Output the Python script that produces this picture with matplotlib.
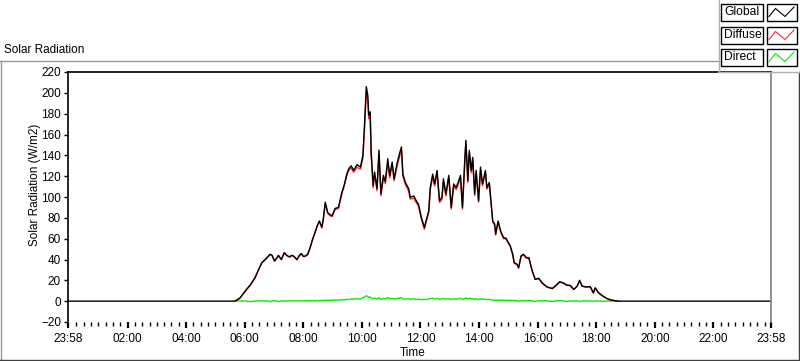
import matplotlib
matplotlib.use('Agg')
import matplotlib.pyplot as plt
from matplotlib.patches import Rectangle
from matplotlib.lines import Line2D

plt.rcParams['font.family'] = ['Liberation Sans', 'DejaVu Sans']

# time in minutes after midnight (-2 = 23:58 of previous day)
t_min = [-2, 340, 350, 361, 372, 381, 390, 395, 402, 408,
         412, 416, 421, 425, 429, 435, 441, 446, 452, 456,
         460, 467, 472, 476, 480, 484, 489, 494, 499, 504,
         508, 513, 518, 521, 525, 530, 535, 539, 545, 552,
         559, 564, 569, 573, 578, 583, 590, 597, 602, 605,
         609, 612, 614, 617, 619, 623, 626, 631, 635, 639,
         644, 648, 653, 657, 662, 666, 672, 677, 681, 684,
         689, 696, 699, 706, 713, 716, 722, 728, 733, 737,
         740, 745, 749, 754, 759, 764, 767, 772, 778, 783,
         788, 793, 797, 802, 806, 811, 813, 817, 820, 824,
         827, 831, 834, 839, 843, 847, 853, 856, 861, 865,
         868, 872, 874, 879, 884, 890, 895, 900, 904, 909,
         912, 918, 921, 926, 931, 937, 942, 949, 955, 962,
         969, 979, 990, 996, 1005, 1012, 1020, 1027, 1034, 1041,
         1046, 1051, 1058, 1068, 1074, 1078, 1085, 1094, 1102, 1109,
         1118, 1125, 1438]

global_wm2 = [0, 0, 3, 9.7, 16, 22.5, 32, 37, 40, 43,
              45, 44, 38.6, 41, 44, 40, 46.6, 44, 42.5, 44,
              43.4, 40, 44, 45.7, 43, 43.4, 45, 51.5, 59.5, 66,
              72, 77, 71, 79, 95, 85, 83, 82, 89, 90,
              104.5, 112, 122, 127, 130, 125.5, 131, 128.7, 140, 165.7,
              206, 198, 178.6, 181.8, 143, 111, 124, 108, 145, 103,
              120.7, 115, 136.8, 120.7, 133.5, 117.5, 132, 141.6, 148, 122,
              114, 107.8, 99.7, 101, 95, 93, 80, 70.8, 80, 87,
              109, 122, 112.6, 125.5, 96.5, 99.7, 117.5, 103, 120.7, 90,
              112.6, 109, 114, 120.7, 90, 138, 154.4, 115.8, 144.8, 125.5,
              138, 103, 125.5, 96.5, 128.7, 112.6, 125.5, 109, 114, 93,
              77, 74, 64.4, 77, 67.6, 61, 60.5, 56.3, 53, 45,
              37, 35.4, 32, 43.4, 45, 41.8, 41.8, 29, 21, 22,
              17.7, 13.8, 12.2, 14.5, 18.6, 17.7, 15.4, 15.1, 11.3, 14.5,
              20, 14.5, 13.8, 13.8, 8, 12.8, 8, 4.8, 2.6, 1.3,
              0.5, 0, 0]

diffuse_wm2 = [0, 0, 2.7, 9.5, 15.8, 22.2, 31.8, 36.7, 39.8, 42.7,
               44.8, 43.8, 38.3, 40.8, 43.8, 39.8, 46.3, 43.8, 42.2, 43.8,
               43.0, 39.7, 43.8, 45.3, 42.7, 42.9, 44.6, 51.2, 58.9, 65.6,
               71.3, 76.5, 70.2, 78.4, 94.0, 84.3, 81.9, 81.2, 87.8, 89.0,
               103.0, 110.8, 120.2, 125.5, 127.8, 123.7, 128.5, 126.7, 136.8, 161.7,
               200.8, 193.5, 175.0, 177.8, 140.2, 108.8, 121.0, 106.0, 141.8, 101.2,
               118.1, 112.8, 133.3, 118.3, 130.7, 115.5, 129.4, 138.6, 144.6, 119.8,
               112.0, 105.4, 97.9, 98.8, 93.4, 91.0, 78.6, 69.0, 78.5, 85.0,
               106.6, 119.2, 110.6, 122.9, 94.7, 97.5, 114.9, 101.1, 118.2, 88.4,
               110.4, 107.0, 111.6, 117.9, 88.4, 135.4, 151.4, 113.8, 142.0, 123.3,
               135.4, 101.5, 123.2, 95.1, 126.3, 110.8, 123.5, 107.5, 112.2, 91.8,
               76.0, 72.8, 63.6, 75.9, 66.7, 60.0, 59.8, 55.4, 52.4, 44.2,
               36.5, 34.7, 31.7, 42.8, 44.5, 41.2, 41.4, 28.5, 20.8, 21.6,
               17.4, 13.4, 12.0, 14.2, 18.2, 17.4, 15.2, 14.8, 11.1, 14.2,
               19.8, 14.3, 13.5, 13.6, 7.8, 12.6, 7.8, 4.6, 2.4, 1.2,
               0.5, 0, 0]

direct_wm2 = [0, 0, 0.3, 0.2, -0.5, 0.3, 0.2, 0.3, 0.2, 0.3,
              -0.6, 0.2, 0.3, 0.2, -0.5, 0.2, 0.3, 0.2, 0.3, 0.2,
              0.4, 0.3, 0.2, 0.4, 0.3, 0.5, 0.4, 0.3, 0.6, 0.4,
              0.7, 0.5, 0.8, 0.6, 1.0, 0.7, 1.1, 0.8, 1.2, 1.0,
              1.5, 1.2, 1.8, 1.5, 2.2, 1.8, 2.5, 2.0, 3.2, 4.0,
              5.2, 4.5, 3.6, 4.0, 2.8, 2.2, 3.0, 2.0, 3.2, 1.8,
              2.6, 2.2, 3.5, 2.4, 2.8, 2.0, 2.6, 3.0, 3.4, 2.2,
              2.0, 2.4, 1.8, 2.2, 1.6, 2.0, 1.4, 1.8, 1.5, 2.0,
              2.4, 2.8, 2.0, 2.6, 1.8, 2.2, 2.6, 1.9, 2.5, 1.6,
              2.2, 2.0, 2.4, 2.8, 1.6, 2.6, 3.0, 2.0, 2.8, 2.2,
              2.6, 1.5, 2.3, 1.4, 2.4, 1.8, 2.0, 1.5, 1.8, 1.2,
              1.0, 1.2, 0.8, 1.1, 0.9, 1.0, 0.7, 0.9, 0.6, 0.8,
              0.5, 0.7, -0.3, 0.6, 0.5, 0.6, 0.4, 0.5, -0.4, 0.4,
              0.3, 0.4, -0.3, 0.3, 0.4, 0.3, -0.4, 0.3, 0.2, 0.3,
              -0.4, 0.2, 0.3, 0.2, -0.3, 0.2, 0.2, -0.3, 0.2, 0.1,
              0, 0, 0]

tick_pos = [-2, 120, 240, 360, 480, 600, 720, 840, 960, 1080, 1200, 1320, 1438]
tick_labels = ['23:58', '02:00', '04:00', '06:00', '08:00', '10:00', '12:00',
               '14:00', '16:00', '18:00', '20:00', '22:00', '23:58']
legend_names = ['Global', 'Diffuse', 'Direct']
legend_colors = ['black', '#ff2a2a', '#00ee00']

W, H = 800, 361


def fx(x):
    return x / W


def fy(y):
    return 1 - y / H


fig = plt.figure(figsize=(8, 3.61), dpi=100)
fig.patch.set_facecolor('white')

ax = fig.add_axes([fx(68), fy(322), fx(771) - fx(68), fy(72) - fy(322)])
ax.set_facecolor('white')

ax.plot(t_min[1:-1], direct_wm2[1:-1], color=legend_colors[2], lw=1.0)
ax.plot(t_min[1:-1], diffuse_wm2[1:-1], color=legend_colors[1], lw=1.0)
ax.plot(t_min, global_wm2, color=legend_colors[0], lw=1.0)

ax.set_xlim(-2, 1438)
ax.set_ylim(-20, 220)

ax.set_xticks(tick_pos)
ax.set_xticklabels(tick_labels)
ax.set_xticks([m for m in range(0, 1440, 15) if m % 120 != 0], minor=True)
ax.set_yticks(range(-20, 221, 20))

ax.tick_params(axis='x', which='major', direction='out', length=4.2, width=1.6,
               labelsize=8.5, pad=3.5)
ax.tick_params(axis='x', which='minor', direction='out', length=2.6, width=1)
ax.tick_params(axis='y', direction='out', length=3, width=1, labelsize=8.5, pad=2)

ax.spines['bottom'].set_visible(False)
ax.spines['left'].set_color('black')
ax.spines['top'].set_color('black')
ax.spines['right'].set_color('#7f7f7f')
for s in ['left', 'top', 'right']:
    ax.spines[s].set_linewidth(1.2)

ax.set_xlabel('Time', fontsize=8.5)
ax.xaxis.set_label_coords(0.49, -0.1)
ax.set_ylabel('Solar Radiation (W/m2)', fontsize=8.5)
ax.yaxis.set_label_coords(-0.038, 0.55)

fig.text(fx(4), fy(50), 'Solar Radiation', fontsize=8.5, va='center', ha='left')

# graph frame
frame = [((0, 61), (718, 61), '#9a9a9a'), ((0.5, 61), (0.5, 360), '#9a9a9a'),
         ((0, 360), (799, 360), '#404040'), ((798.5, 72), (798.5, 360), '#404040'),
         ((718.5, 0), (718.5, 72), '#b0b0b0'), ((718, 71.5), (800, 71.5), '#b0b0b0')]
for p0, p1, c in frame:
    fig.add_artist(Line2D([fx(p0[0]), fx(p1[0])], [fy(p0[1]), fy(p1[1])],
                          color=c, lw=1, transform=fig.transFigure))

# legend boxes
row_tops = [4, 27, 49]
for name, c, top in zip(legend_names, legend_colors, row_tops):
    hgt = 16.5
    fig.add_artist(Rectangle((fx(721), fy(top + hgt)), fx(42), hgt / H,
                             transform=fig.transFigure, fill=False,
                             edgecolor='black', lw=1))
    fig.add_artist(Rectangle((fx(767), fy(top + hgt)), fx(30), hgt / H,
                             transform=fig.transFigure, fill=False,
                             edgecolor='black', lw=1))
    fig.text(fx(724), fy(top + hgt / 2), name, fontsize=8.7, va='center', ha='left')
    xs = [769, 775.5, 785, 794]
    ys = [top + 12.5, top + 4.5, top + 12.5, top + 3]
    fig.add_artist(Line2D([fx(v) for v in xs], [fy(v) for v in ys], color=c, lw=0.8,
                          transform=fig.transFigure))

fig.savefig('out.png', dpi=100)
